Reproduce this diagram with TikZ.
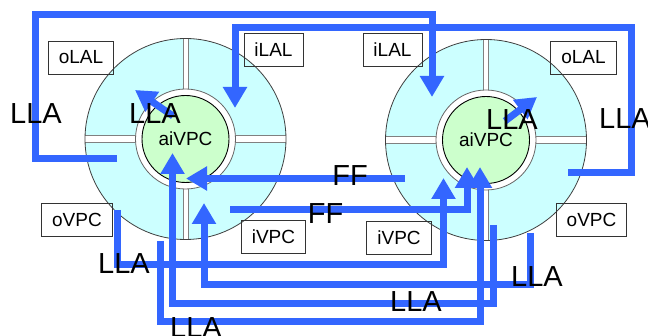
\documentclass[tikz,border=0pt]{standalone}
\usepackage{fontspec}
\setmainfont{Liberation Sans}
\usepackage{tikz}
\usetikzlibrary{arrows.meta}
\usepackage{xcolor}
\definecolor{flowBlue}{RGB}{51, 102, 255}
\definecolor{diskCyan}{RGB}{204, 255, 255}
\definecolor{coreGreen}{RGB}{204, 255, 204}

\begin{document}
\begin{tikzpicture}[x=1pt, y=-1pt, >={Triangle[width=23pt, length=21pt]},
  regbox/.style={draw=black!80, line width=0.9pt, font=\fontsize{19}{19}\selectfont,
    inner xsep=10.5pt, inner ysep=0pt, minimum height=33pt},
  biglbl/.style={font=\fontsize{29}{29}\selectfont, inner sep=0pt},
  corelbl/.style={font=\fontsize{19}{19}\selectfont, inner sep=0pt},
  flow/.style={->, flowBlue, line width=7pt}]
  \def\rOut{100.5}
  \def\rRing{50}
  \def\rCore{43.5}
  \useasboundingbox (0,0) rectangle (648,336);
  \fill[white] (0,0) rectangle (648,336);

  \coordinate (cL) at (185.5,139);
  \coordinate (cR) at (486,140);

  % Disks split in four sectors
  \foreach \c in {cL, cR} {
    \begin{scope}[shift={(\c)}]
      \fill[diskCyan] (0,0) circle (\rOut);
      \begin{scope}
        \clip (0,0) circle (\rOut);
        \filldraw[fill=white, draw=gray, line width=0.8pt] (-2.5,-103) rectangle (2.5,103);
        \filldraw[fill=white, draw=gray, line width=0.8pt] (-103,-3.5) rectangle (103,3.5);
      \end{scope}
      \draw[black!75, line width=0.8pt] (0,0) circle (\rOut);
      \filldraw[fill=white, draw=black!60, line width=0.8pt] (0,0) circle (\rRing);
      \filldraw[fill=coreGreen, draw=black, line width=0.9pt] (0,0) circle (\rCore);
    \end{scope}
  }
  \node[corelbl] (lCore) at (cL) {aiVPC};
  \node[corelbl] (rCore) at (cR) {aiVPC};

  \node[regbox] (lOLAL) at (81,57.5) {oLAL};
  \node[regbox] (lILAL) at (273.5,50) {iLAL};
  \node[regbox] (rILAL) at (392.5,50) {iLAL};
  \node[regbox] (rOLAL) at (583.5,57.5) {oLAL};
  \node[regbox] (lOVPC) at (77,219.5) {oVPC};
  \node[regbox] (lIVPC) at (273.5,237) {iVPC};
  \node[regbox] (rIVPC) at (399,238) {iVPC};
  \node[regbox] (rOVPC) at (591.5,219.5) {oVPC};

  % Connector ends and corners
  \coordinate (aS) at (117,159);   \coordinate (aC) at (35,15);    \coordinate (aT) at (432,97);
  \coordinate (bS) at (568,173);   \coordinate (bC) at (631,28);   \coordinate (bT) at (235,108);
  \coordinate (cS) at (117,210);   \coordinate (cC) at (443.5,265); \coordinate (cT) at (443.5,178);
  \coordinate (dS) at (530,233);   \coordinate (dC) at (204,284.5); \coordinate (dT) at (204,203);
  \coordinate (eS) at (493,225);   \coordinate (eC) at (172.5,303.5); \coordinate (eT) at (172.5,153);
  \coordinate (fS) at (160,241);   \coordinate (fC) at (480,321.5); \coordinate (fT) at (480,167);
  \coordinate (gS) at (405,178.5); \coordinate (gT) at (186,178.5);
  \coordinate (hS) at (230,209.5); \coordinate (hT) at (467,167);
  \coordinate (iS) at (173,116);   \coordinate (iT) at (135,90);
  \coordinate (jS) at (505,121);   \coordinate (jT) at (537,97);

  \draw[flow] (aS) -| (aC) -| (aT);
  \draw[flow] (bS) -| (bC) -| (bT);
  \draw[flow] (cS) |- (cC) -- (cT);
  \draw[flow] (dS) |- (dC) -- (dT);
  \draw[flow] (eS) |- (eC) -- (eT);
  \draw[flow] (fS) |- (fC) -- (fT);
  \draw[flow] (gS) -- (gT);
  \draw[flow] (hS) -| (hT);
  \draw[flow] (iS) -- (iT);
  \draw[flow] (jS) -- (jT);

  \node[biglbl] (llaA) at (36,113.5) {LLA};
  \node[biglbl] (llaLin) at (155,113.5) {LLA};
  \node[biglbl] (llaRin) at (512,120) {LLA};
  \node[biglbl] (llaB) at (625,119) {LLA};
  \node[biglbl] (llaC) at (124,264) {LLA};
  \node[biglbl] (llaD) at (537,276.5) {LLA};
  \node[biglbl] (llaE) at (416,301.5) {LLA};
  \node[biglbl] (llaF) at (196,327.5) {LLA};
  \node[biglbl] (ffA) at (350,175.5) {FF};
  \node[biglbl] (ffB) at (325.5,213.5) {FF};
\end{tikzpicture}
\end{document}
